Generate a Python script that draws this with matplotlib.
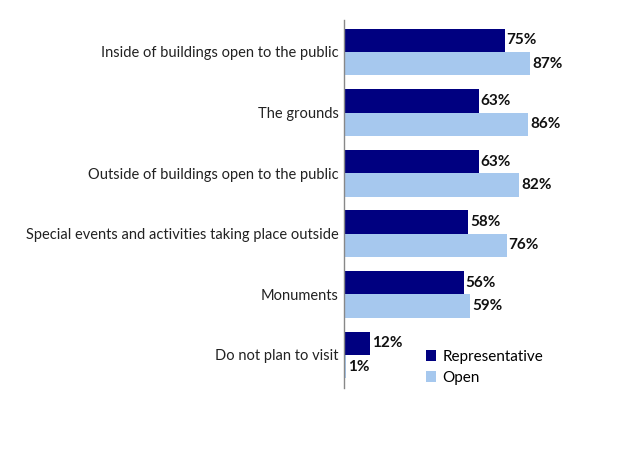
import matplotlib
matplotlib.use("Agg")
import matplotlib.pyplot as plt
import numpy as np

categories = ["Inside of buildings open to the public", "The grounds",
              "Outside of buildings open to the public",
              "Special events and activities taking place outside",
              "Monuments", "Do not plan to visit"]
representative = [75, 63, 63, 58, 56, 12]
open_vals = [87, 86, 82, 76, 59, 1]
series_names = ["Representative", "Open"]
colors = ["#000080", "#A6C8EE"]

plt.rcParams['font.family'] = ['Lato', 'DejaVu Sans']

fig = plt.figure(figsize=(6.24, 4.68), dpi=100)
ax = fig.add_axes([344/624, 1-388/468, 214/624, (388-20)/468])

n = len(categories)
y = np.arange(n)
h = 0.385
b1 = ax.barh(y - h/2, representative, height=h, color=colors[0], label=series_names[0])
b2 = ax.barh(y + h/2, open_vals, height=h, color=colors[1], label=series_names[1])

for bars, vals in ((b1, representative), (b2, open_vals)):
    for rect, v in zip(bars, vals):
        ax.text(rect.get_width() + 0.9, rect.get_y() + rect.get_height()/2, f"{v}%",
                va='center', ha='left', fontsize=11, fontweight='bold', color='#111111')

ax.set_xlim(0, 100)
ax.set_ylim(n - 1 + 0.545, -0.528)
ax.set_yticks(y)
ax.set_yticklabels(categories, fontsize=10.5, color='#222222')
ax.tick_params(axis='y', length=0, pad=4)
ax.set_xticks([])
for s in ['top', 'right', 'bottom']:
    ax.spines[s].set_visible(False)
ax.spines['left'].set_color('#888888')
ax.spines['left'].set_linewidth(1.0)

leg = fig.legend(handles=[b1, b2], labels=series_names, loc='upper left',
                 bbox_to_anchor=(412/624, 1-336/468), frameon=False, fontsize=11,
                 handlelength=0.7, handleheight=0.7, handletextpad=0.4, labelspacing=0.45)

fig.savefig("out.png", dpi=100)
